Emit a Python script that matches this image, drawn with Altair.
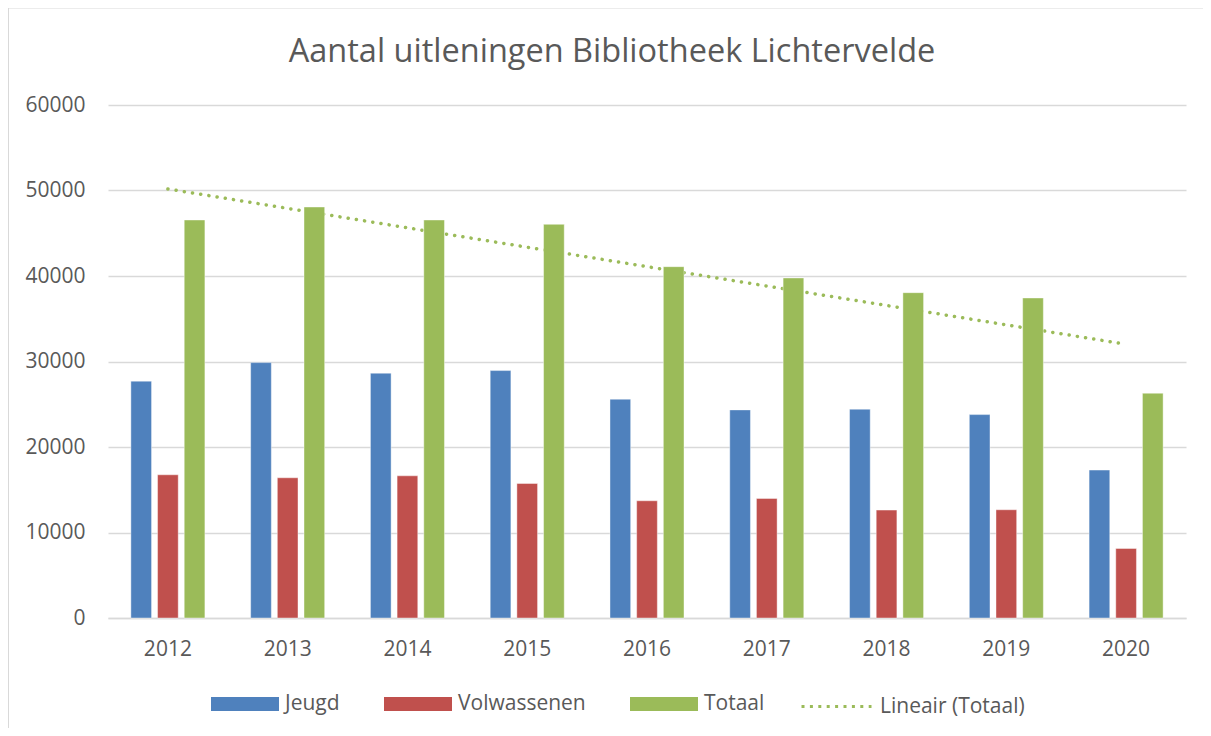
import altair as alt
import pandas as pd

years = [2012, 2013, 2014, 2015, 2016, 2017, 2018, 2019, 2020]
series_names = ["Jeugd", "Volwassenen", "Totaal"]
jeugd = [27700, 29870, 28630, 28940, 25590, 24340, 24420, 23790, 17300]
volwassenen = [16750, 16400, 16630, 15730, 13710, 13980, 12620, 12660, 8130]
totaal = [46550, 48070, 46550, 46040, 41090, 39770, 38050, 37430, 26290]
bar_colors = ["#4F81BD", "#C0504D", "#9BBB59"]
trend_label = "Lineair (Totaal)"
y_ticks = [0, 10000, 20000, 30000, 40000, 50000, 60000]
title_text = "Aantal uitleningen Bibliotheek Lichtervelde"

rows = []
for name, vals in zip(series_names, [jeugd, volwassenen, totaal]):
    for yr, v in zip(years, vals):
        rows.append({"year": yr, "series": name, "value": v})
df = pd.DataFrame(rows)

TXT = "#595959"
GRID = "#D9D9D9"
FONT = "Open Sans"

x_enc = alt.X(
    "year:O",
    title=None,
    scale=alt.Scale(paddingInner=0.382, paddingOuter=0.191),
    axis=alt.Axis(
        labelAngle=0, labelFontSize=21, labelColor=TXT, labelFont=FONT,
        labelPadding=20, ticks=False, tickSize=0, domainColor=GRID,
        domainWidth=1.3, grid=False,
    ),
)
y_scale = alt.Scale(domain=[0, 60000])

base = alt.Chart(df)
one = alt.Data(values=[{"k": 1}])

# chart-area frame: thin filled strips along the top and left edges only
frame_top = alt.Chart(one).mark_rect(fill=GRID, strokeWidth=0).encode(
    x=alt.value(-101), x2=alt.value(1095),
    y=alt.value(-98.5), y2=alt.value(-96.5),
)
frame_left = alt.Chart(one).mark_rect(fill=GRID, strokeWidth=0).encode(
    x=alt.value(-101), x2=alt.value(-99),
    y=alt.value(-98.5), y2=alt.value(623),
)

title = alt.Chart(alt.Data(values=[{"t": title_text}])).mark_text(
    font=FONT, fontSize=32.5, color=TXT, align="center", baseline="alphabetic"
).encode(
    text="t:N", x=alt.value(504), y=alt.value(-43),
)

trend = base.transform_filter(
    alt.datum.series == "Totaal"
).transform_regression(
    "year", "value", method="linear"
).transform_calculate(
    trend="'" + trend_label + "'"
).mark_line(
    strokeWidth=3.5, strokeDash=[0.1, 8.2], strokeCap="round"
).encode(
    x=x_enc,
    y=alt.Y("value:Q", scale=y_scale),
    color=alt.Color(
        "trend:N",
        scale=alt.Scale(domain=[trend_label], range=["#9BBB59"]),
        legend=alt.Legend(
            title=None, orient="none", legendX=692, legendY=565,
            direction="horizontal", symbolType="stroke", symbolSize=4900,
            symbolDash=[3, 5.4], symbolStrokeWidth=3,
            labelFontSize=21, labelColor=TXT, labelFont=FONT,
            labelOffset=7, padding=0,
        ),
    ),
)

bars = base.mark_bar(stroke="white", strokeWidth=0.6, strokeOpacity=0.7).encode(
    x=x_enc,
    xOffset=alt.XOffset(
        "series:N", sort=series_names,
        scale=alt.Scale(paddingInner=0.225, paddingOuter=0),
    ),
    y=alt.Y(
        "value:Q", title=None, scale=y_scale,
        axis=alt.Axis(
            values=y_ticks, format="d", labelFontSize=21, labelColor=TXT,
            labelFont=FONT, labelPadding=23, ticks=False, tickSize=0,
            domain=False, gridColor=GRID, gridWidth=1.3,
        ),
    ),
    color=alt.Color(
        "series:N",
        sort=series_names,
        scale=alt.Scale(domain=series_names, range=bar_colors),
        legend=alt.Legend(
            title=None, orient="none", legendX=103, legendY=565,
            direction="horizontal",
            symbolType="M-1,-0.206L1,-0.206L1,0.206L-1,0.206Z",
            symbolSize=4624, symbolStrokeWidth=0, columnPadding=44,
            labelFontSize=21, labelColor=TXT, labelFont=FONT,
            labelOffset=6, padding=0,
        ),
    ),
)

chart = alt.layer(frame_top, frame_left, title, trend, bars).resolve_scale(
    color="independent"
).properties(
    width=1078,
    height=513,
    autosize=alt.AutoSizeParams(type="none"),
    padding={"left": 100, "top": 97, "right": 17, "bottom": 110},
    background="white",
).configure_view(stroke=None)

chart.save("out.html", embed_options={"renderer": "svg", "actions": False})
